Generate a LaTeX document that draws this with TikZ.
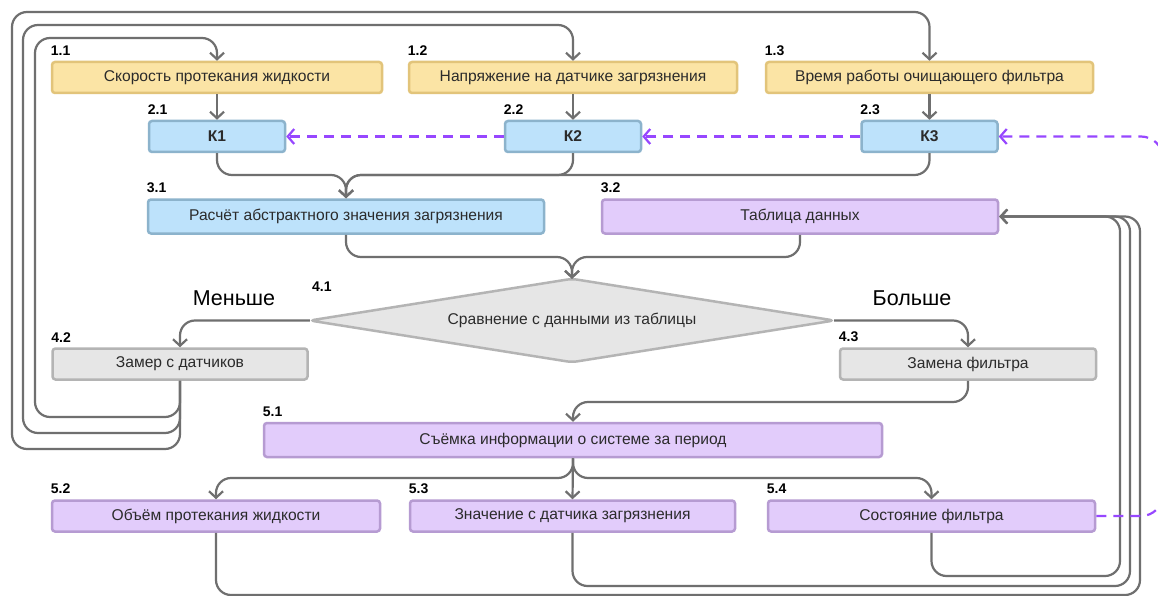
\documentclass[tikz,border=0pt]{standalone}
\usepackage{fontspec}
\setmainfont{Liberation Sans}
\usetikzlibrary{arrows.meta}
\definecolor{yfill}{HTML}{FBE4A5}
\definecolor{ydraw}{HTML}{E2C47A}
\definecolor{bfill}{HTML}{BDE2FB}
\definecolor{bdraw}{HTML}{8CB3CC}
\definecolor{pfill}{HTML}{E2CCFB}
\definecolor{pdraw}{HTML}{B69BD2}
\definecolor{gfill}{HTML}{E6E6E6}
\definecolor{gdraw}{HTML}{B4B4B4}
\definecolor{cline}{HTML}{6F6F6F}
\definecolor{dline}{HTML}{9747FF}
\definecolor{txt}{HTML}{2B2B2B}
\tikzset{
  box/.style={rectangle, rounded corners=3pt, line width=2.5pt, inner sep=0pt,
    minimum height=31pt, text=txt, font=\fontsize{15.6}{18}\selectfont},
  ybox/.style={box, fill=yfill, draw=ydraw},
  bbox/.style={box, fill=bfill, draw=bdraw},
  pbox/.style={box, fill=pfill, draw=pdraw},
  gbox/.style={box, fill=gfill, draw=gdraw},
  kbox/.style={bbox, minimum width=136pt, font=\bfseries\fontsize{15.6}{18}\selectfont},
  lbl/.style={anchor=south west, inner sep=0pt, font=\bfseries\fontsize{14}{16}\selectfont, text=black},
  conn/.style={draw=cline, line width=2.2pt, rounded corners=15pt,
    -{Straight Barb[length=6.5pt,width=14pt,line width=2.2pt]}},
  dconn/.style={draw=dline, line width=2.2pt, dash pattern=on 10pt off 7pt, rounded corners=22pt,
    -{Straight Barb[length=6.5pt,width=15pt,line width=2.2pt]}},
  big/.style={font=\fontsize{21.5}{24}\selectfont, text=black, inner sep=0pt}
}
\begin{document}
\begin{tikzpicture}[x=1pt,y=-1pt]
\useasboundingbox (0,0) rectangle (1158,596);
\fill[white] (0,0) rectangle (1158,596);
\clip (0,0) rectangle (1158,596);

% level 1
\node[ybox, minimum width=330pt] (n11) at (217,77.5) {Скорость протекания жидкости};
\node[ybox, minimum width=328pt] (n12) at (573,77.5) {Напряжение на датчике загрязнения};
\node[ybox, minimum width=327pt] (n13) at (929.5,77.5) {Время работы очищающего фильтра};
% level 2
\node[kbox] (n21) at (217,136.5) {К1};
\node[kbox] (n22) at (573,136.5) {К2};
\node[kbox] (n23) at (929.5,136.5) {К3};
% level 3
\node[bbox, minimum width=396pt, minimum height=34pt] (n31) at (346,216.5) {Расчёт абстрактного значения загрязнения};
\node[pbox, minimum width=396pt, minimum height=34pt] (n32) at (800,216.5) {Таблица данных};
% level 4
\node[rectangle, minimum width=524pt, minimum height=83pt, inner sep=0pt] (n41) at (572,320.5) {};
\filldraw[fill=gfill, draw=gdraw, line width=2.5pt, rounded corners=5pt]
  (n41.west) -- (n41.north) -- (n41.east) -- (n41.south) -- cycle;
\node[text=txt, font=\fontsize{15.6}{18}\selectfont, inner sep=0pt] (t41) at (n41.center) {Сравнение с данными из таблицы};
\node[gbox, minimum width=255pt] (n42) at (180,364) {Замер с датчиков};
\node[gbox, minimum width=256pt] (n43) at (968,364) {Замена фильтра};
% level 5
\node[pbox, minimum width=618pt, minimum height=34pt] (n51) at (573,440) {Съёмка информации о системе за период};
\node[pbox, minimum width=328pt] (n52) at (216,516) {Объём протекания жидкости};
\node[pbox, minimum width=325pt] (n53) at (572.5,516) {Значение с датчика загрязнения};
\node[pbox, minimum width=327pt] (n54) at (931.5,516) {Состояние фильтра};

% number labels
\node[lbl] (l11) at ([yshift=5pt]n11.north west) {1.1};
\node[lbl] (l12) at ([yshift=5pt]n12.north west) {1.2};
\node[lbl] (l13) at ([yshift=5pt]n13.north west) {1.3};
\node[lbl] (l21) at ([yshift=5pt]n21.north west) {2.1};
\node[lbl] (l22) at ([yshift=5pt]n22.north west) {2.2};
\node[lbl] (l23) at ([yshift=5pt]n23.north west) {2.3};
\node[lbl] (l31) at ([yshift=5pt]n31.north west) {3.1};
\node[lbl] (l32) at ([yshift=5pt]n32.north west) {3.2};
\node[lbl] (l41) at (312,292) {4.1};
\node[lbl] (l42) at ([yshift=5pt]n42.north west) {4.2};
\node[lbl] (l43) at ([yshift=5pt]n43.north west) {4.3};
\node[lbl] (l51) at ([yshift=5pt]n51.north west) {5.1};
\node[lbl] (l52) at ([yshift=5pt]n52.north west) {5.2};
\node[lbl] (l53) at ([yshift=5pt]n53.north west) {5.3};
\node[lbl] (l54) at ([yshift=5pt]n54.north west) {5.4};

\node[big] (less) at (234,298) {Меньше};
\node[big] (more) at (912,298) {Больше};

% straight arrows 1 -> 2
\draw[conn] (n11.south) -- (n21.north);
\draw[conn] (n12.south) -- (n22.north);
\draw[conn] (n13.south) -- (n23.north);
% 2 -> 3.1
\draw[conn] (n21.south) -- (217,175) -- (346,175) -- (n31.north);
\draw[conn] (n22.south) -- (573,175) -- (346,175) -- (n31.north);
\draw[conn] (n23.south) -- (929.5,175) -- (346,175) -- (n31.north);
% 3 -> 4.1
\draw[conn] (n31.south) -- (346,257) -- (572,257) -- (n41.north);
\draw[conn] (n32.south) -- (800,257) -- (572,257) -- (n41.north);
% 4.1 -> 4.2 / 4.3
\draw[conn] (n41.west) -- (180,320.5) -- (n42.north);
\draw[conn] (n41.east) -- (968,320.5) -- (n43.north);
% 4.3 -> 5.1
\draw[conn] (n43.south) -- (968,402) -- (573,402) -- (n51.north);
% 5.1 -> 5.x
\draw[conn] (n51.south) -- (573,478) -- (216,478) -- (n52.north);
\draw[conn] (n51.south) -- (n53.north);
\draw[conn] (n51.south) -- (573,478) -- (931.5,478) -- (n54.north);
% loops 4.2 -> level 1
\draw[conn] (n42.south) -- (180,417) -- (35,417) -- (35,38) -- (217,38) -- (n11.north);
\draw[conn] (n42.south) -- (180,433) -- (23,433) -- (23,25) -- (573,25) -- (n12.north);
\draw[conn] (n42.south) -- (180,449) -- (12,449) -- (12,12) -- (929.5,12) -- (n13.north);
% loops 5.x -> 3.2
\draw[conn] (n54.south) -- (931.5,576) -- (1120,576) -- (1120,216.5) -- (n32.east);
\draw[conn] (n53.south) -- (572.5,586) -- (1130,586) -- (1130,216.5) -- (n32.east);
\draw[conn] (n52.south) -- (216,595) -- (1140,595) -- (1140,216.5) -- (n32.east);
% dashed
\draw[dconn, rounded corners=0pt] (n22.west) -- (n21.east);
\draw[dconn, rounded corners=0pt] (n23.west) -- (n22.east);
\draw[dconn] (n54.east) -- (1163,516) -- (1163,136.5) -- (n23.east);
\end{tikzpicture}
\end{document}
